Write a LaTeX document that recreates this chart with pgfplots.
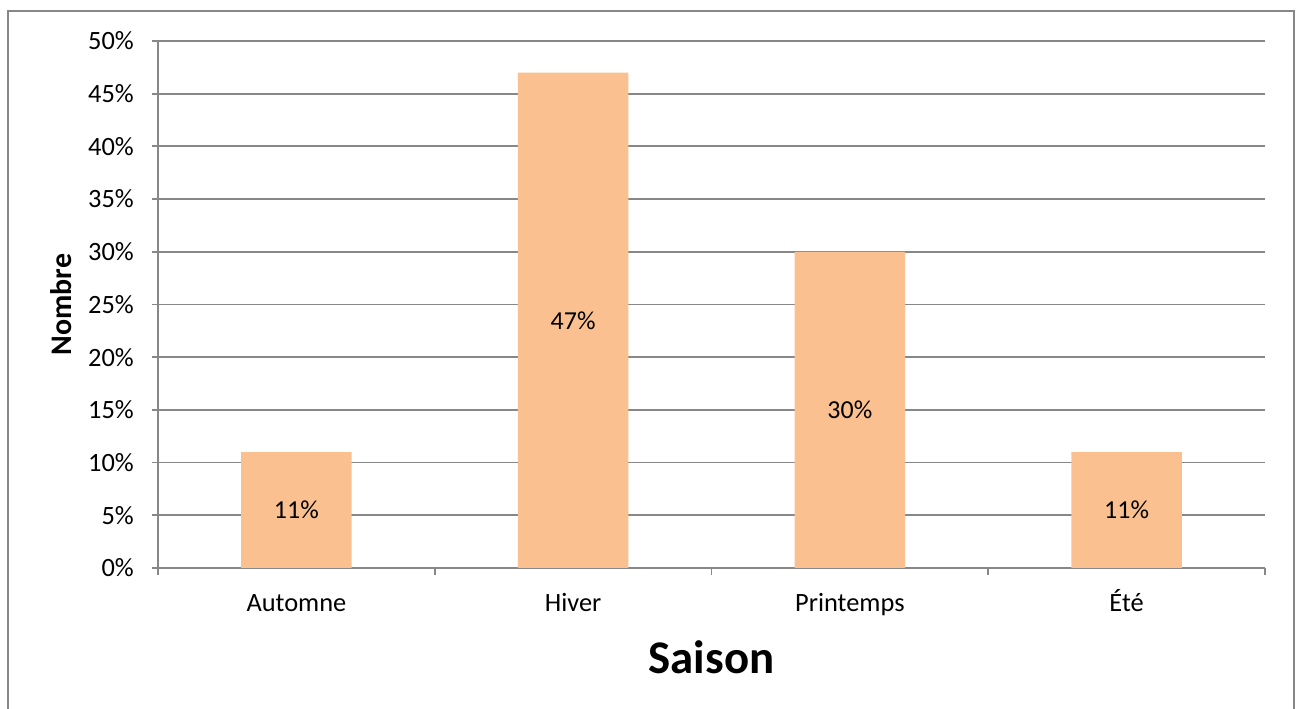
\documentclass[border=0pt]{standalone}
\usepackage{fontspec}
\setmainfont{Carlito}
\usepackage{pgfplots}
\pgfplotsset{compat=1.18}
\definecolor{barc}{HTML}{FAC090}
\definecolor{gridc}{HTML}{878787}
\begin{document}
\begin{tikzpicture}
\path[use as bounding box] (0,0) rectangle (1301bp,709bp);
\draw[gridc, line width=2bp] (8bp,-5bp) -- (8bp,698bp) -- (1294bp,698bp) -- (1294bp,-5bp);
\begin{axis}[
  at={(158bp,141bp)}, anchor=south west,
  width=1107bp, height=527bp, scale only axis,
  xmin=-0.5, xmax=3.5, ymin=0, ymax=50,
  axis x line*=bottom, axis y line*=left,
  axis line style={gridc, line width=1.8bp},
  ymajorgrids, grid style={gridc, line width=1.8bp},
  ytick={0,5,...,50},
  yticklabel={\pgfmathprintnumber{\tick}\%},
  xtick={0,1,2,3},
  xticklabels={Automne, Hiver, Printemps, Été},
  minor xtick={-0.5,0.5,1.5,2.5,3.5},
  tick align=outside,
  major tick length=6bp, minor tick length=7bp,
  major x tick style={draw=none},
  minor x tick style={gridc, line width=1.8bp},
  major y tick style={gridc, line width=1.8bp},
  /pgf/number format/assume math mode=true,
  ticklabel style={font=\fontsize{26.5}{31}\selectfont, text=black},
  xticklabel style={anchor=base, inner sep=0pt, yshift=-37bp},
  yticklabel style={anchor=east, inner sep=0pt, xshift=-18bp},
  xlabel={Saison},
  xlabel style={at={(axis description cs:0.5,0)}, anchor=center, inner sep=0pt, yshift=-89.5bp, font=\fontsize{47}{56}\selectfont\bfseries},
  ylabel={Nombre},
  ylabel style={at={(axis description cs:0,0.5)}, anchor=center, inner sep=0pt, yshift=96.5bp, font=\fontsize{30}{36}\selectfont\bfseries},
  ybar, bar width=0.4,
  visualization depends on={y/2 \as \half},
  nodes near coords={\pgfmathprintnumber{\pgfplotspointmeta}\%},
  every node near coord/.append style={anchor=center, shift={(axis direction cs:0,-\half)}, font=\fontsize{26}{31}\selectfont, text=black, /pgf/number format/assume math mode=true},
]
\addplot[fill=barc, draw=none] coordinates {(0,11) (1,47) (2,30) (3,11)};
\end{axis}
\end{tikzpicture}
\end{document}
